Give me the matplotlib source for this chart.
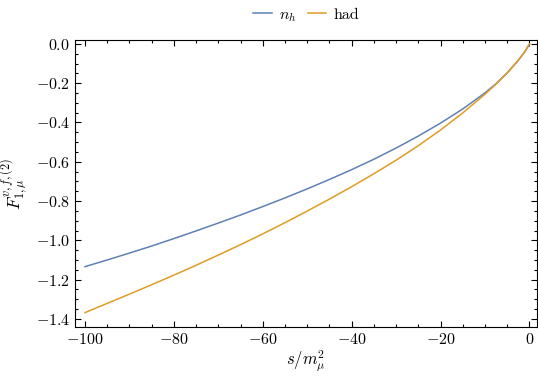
import matplotlib
matplotlib.use("Agg")
import matplotlib.pyplot as plt
from matplotlib.ticker import MultipleLocator

# values
s_vals = [-100, -95, -90, -85, -80, -75, -70, -65, -60, -55, -50, -45, -40,
          -35, -30, -25, -20, -15, -10, -7.5, -5, -2.5, -1, 0]
f_nh = [-1.134, -1.100, -1.065, -1.029, -0.991, -0.952, -0.912, -0.871, -0.828,
        -0.784, -0.738, -0.690, -0.640, -0.587, -0.530, -0.469, -0.403, -0.331,
        -0.249, -0.202, -0.147, -0.083, -0.038, 0.0]
f_had = [-1.368, -1.321, -1.274, -1.226, -1.177, -1.127, -1.075, -1.022, -0.967,
         -0.910, -0.851, -0.790, -0.727, -0.661, -0.592, -0.518, -0.438, -0.351,
         -0.256, -0.204, -0.148, -0.083, -0.038, 0.0]
labels = [r"$n_h$", "had"]
colors = ["#5e81b5", "#e19c24"]

plt.rcParams["font.family"] = "serif"
plt.rcParams["font.serif"] = ["cmr10"]
plt.rcParams["mathtext.fontset"] = "cm"
plt.rcParams["axes.formatter.use_mathtext"] = True
plt.rcParams["axes.unicode_minus"] = True

fig = plt.figure(figsize=(5.38, 3.76), dpi=100)
ax = fig.add_axes([0.1394, 0.131, 0.8588, 0.7626])

ax.plot(s_vals, f_nh, color=colors[0], lw=1.1, label=labels[0])
ax.plot(s_vals, f_had, color=colors[1], lw=1.1, label=labels[1])

ax.set_xlim(-102.25, 1.7)
ax.set_ylim(-1.44, 0.02)
ax.xaxis.set_major_locator(MultipleLocator(20))
ax.xaxis.set_minor_locator(MultipleLocator(5))
ax.yaxis.set_major_locator(MultipleLocator(0.2))
ax.yaxis.set_minor_locator(MultipleLocator(0.05))
ax.yaxis.set_major_formatter(lambda v, p: f"${v:.1f}$".replace("-0.0", "0.0"))
ax.xaxis.set_major_formatter(lambda v, p: f"${v:.0f}$")

ax.tick_params(which="both", direction="in", top=True, right=True,
               labelsize=11.5, width=0.8, colors="black")
ax.tick_params(which="major", length=4.5)
ax.tick_params(which="minor", length=2.5)
for sp in ax.spines.values():
    sp.set_linewidth(0.8)

ax.set_xlabel(r"$s/m_\mu^2$", fontsize=12, labelpad=1)
ax.set_ylabel(r"$F_{1,\mu}^{v,f,(2)}$", fontsize=12.5, labelpad=4)

ax.legend(loc="lower center", bbox_to_anchor=(0.5, 1.035), ncol=2,
          frameon=False, fontsize=11.5, handlelength=1.15, columnspacing=0.7,
          handletextpad=0.45, borderaxespad=0)

fig.savefig("out.png", dpi=100)
